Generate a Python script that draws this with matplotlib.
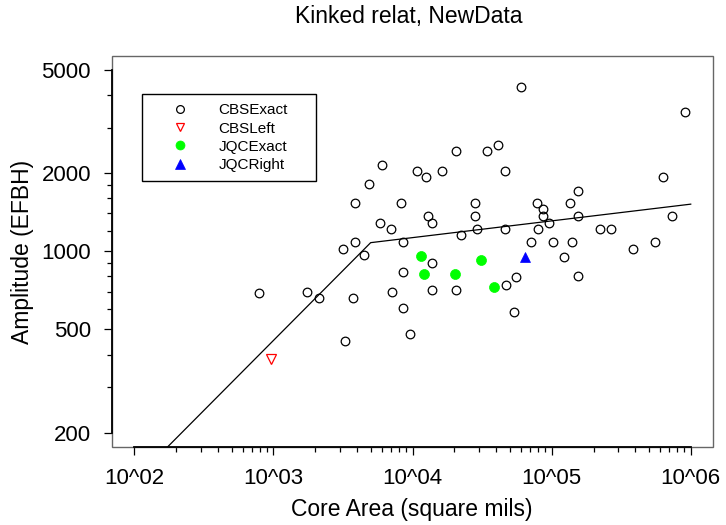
import matplotlib
matplotlib.use("Agg")
import matplotlib.pyplot as plt
from matplotlib.patches import Rectangle
from matplotlib.ticker import FixedLocator, FixedFormatter, NullFormatter

plt.rcParams['font.family'] = ['Liberation Sans', 'DejaVu Sans']

# ---- data ----
cbs_exact_x = [6067, 10776, 4842, 3842, 8309, 5841, 7004, 3842, 8502, 3166,
               4503, 60256, 909000, 20548, 34333, 41394, 12437, 16218, 46238, 632000,
               154000, 28285, 78524, 136300, 86300, 12990, 28285, 86300, 154000, 730000,
               13740, 95800, 28940, 46238, 79860, 221800, 267300, 22210, 71120, 102900,
               139500, 553600, 386700, 122800, 13880, 8590, 55760, 154000, 13880, 20450,
               46780, 8502, 53940, 9643, 7087, 3753, 3288, 1736, 2127, 784]
cbs_exact_y = [2159, 2047, 1819, 1532, 1532, 1287, 1217, 1084, 1084, 1024,
               966, 4315, 3437, 2438, 2438, 2572, 1936, 2047, 2047, 1936,
               1714, 1532, 1532, 1532, 1453, 1369, 1369, 1369, 1369, 1369,
               1290, 1290, 1220, 1220, 1220, 1220, 1220, 1154, 1084, 1084,
               1084, 1084, 1024, 954, 900, 835, 797, 806, 710, 710,
               740, 603, 584, 479, 699, 661, 450, 699, 661, 690]

cbs_left_x = [956]
cbs_left_y = [384]

jqc_exact_x = [11454, 12152, 20210, 31230, 38730]
jqc_exact_y = [960, 816, 816, 929, 727]

jqc_right_x = [64710]
jqc_right_y = [955]

fit_x = [100, 5000, 1000000]
fit_y = [131, 1080, 1520]

x_major = [1e2, 1e3, 1e4, 1e5, 1e6]
x_major_labels = ["10^02", "10^03", "10^04", "10^05", "10^06"]
y_major = [200, 500, 1000, 2000, 5000]
y_major_labels = ["200", "500", "1000", "2000", "5000"]
y_minor = [300, 400, 600, 700, 800, 900, 1200, 1400, 1600, 1800, 3000, 4000]

# ---- figure ----
fig = plt.figure(figsize=(7.26, 5.25), dpi=100)
ax = fig.add_axes([0.1539, 0.148, 0.8278, 0.7459])
ax.set_xscale('log')
ax.set_yscale('log')
ax.set_xlim(10 ** 1.8375, 10 ** 6.158)
ax.set_ylim(10 ** 2.2447, 10 ** 3.754)

ax.plot(fit_x, fit_y, color='black', lw=0.9, zorder=2)

ax.plot(cbs_exact_x, cbs_exact_y, linestyle='none', marker='o', markersize=6.2,
        mfc='none', mec='black', mew=0.9, label='CBSExact', zorder=3)
ax.plot(cbs_left_x, cbs_left_y, linestyle='none', marker='v', markersize=7,
        mfc='none', mec='#ff0000', mew=0.9, label='CBSLeft', zorder=3)
ax.plot(jqc_exact_x, jqc_exact_y, linestyle='none', marker='o', markersize=7.2,
        mfc='#00ff00', mec='#00ff00', mew=0.5, label='JQCExact', zorder=3)
ax.plot(jqc_right_x, jqc_right_y, linestyle='none', marker='^', markersize=7.5,
        mfc='#0000ff', mec='#0000ff', mew=0.5, label='JQCRight', zorder=3)

# ticks
minor_x = [m * d for d in [1e2, 1e3, 1e4, 1e5] for m in range(2, 10)]
ax.xaxis.set_major_locator(FixedLocator(x_major))
ax.xaxis.set_major_formatter(FixedFormatter(x_major_labels))
ax.xaxis.set_minor_locator(FixedLocator(minor_x))
ax.xaxis.set_minor_formatter(NullFormatter())
ax.yaxis.set_major_locator(FixedLocator(y_major))
ax.yaxis.set_major_formatter(FixedFormatter(y_major_labels))
ax.yaxis.set_minor_locator(FixedLocator(y_minor))
ax.yaxis.set_minor_formatter(NullFormatter())

ax.tick_params(axis='both', which='major', direction='out', length=6, width=0.9,
               labelsize=16, color='black')
ax.tick_params(axis='both', which='minor', direction='out', length=3.3, width=0.9,
               color='black')
ax.tick_params(axis='x', which='major', pad=8.6)
ax.tick_params(axis='y', which='major', pad=9)

# spines: black axis lines over a gray box
for s in ['top', 'right']:
    ax.spines[s].set_visible(False)
ax.spines['left'].set_bounds(200, 5000)
ax.spines['bottom'].set_bounds(100, 1e6)
for s in ['left', 'bottom']:
    ax.spines[s].set_color('black')
    ax.spines[s].set_linewidth(1.3)
    ax.spines[s].set_zorder(5)
ax.add_patch(Rectangle((0, 0), 1, 1, transform=ax.transAxes, fill=False,
                       ec='#666666', lw=1.0, clip_on=False, zorder=4))

ax.set_xlabel('Core Area (square mils)', fontsize=16.5)
ax.set_ylabel('Amplitude (EFBH)', fontsize=16.5)
ax.xaxis.set_label_coords(0.5, -0.1282)
ax.yaxis.set_label_coords(-0.130, 0.5)
fig.text(0.563, 1 - 17 / 525, 'Kinked relat, NewData', fontsize=16.5,
         ha='center', va='center')

leg = ax.legend(loc='upper left',
                bbox_to_anchor=(0.0499, 0.9014 - 0.2196, 0.2895, 0.2196),
                mode='expand', fontsize=11, frameon=True, fancybox=False,
                borderpad=0.6, handlelength=3.8, handletextpad=0.61,
                labelspacing=0.27, borderaxespad=0.0, numpoints=1,
                markerscale=0.9)
leg.get_frame().set_edgecolor('black')
leg.get_frame().set_linewidth(1.0)
leg.get_frame().set_alpha(None)
leg.get_frame().set_facecolor('white')

fig.savefig('out.png', dpi=100)
